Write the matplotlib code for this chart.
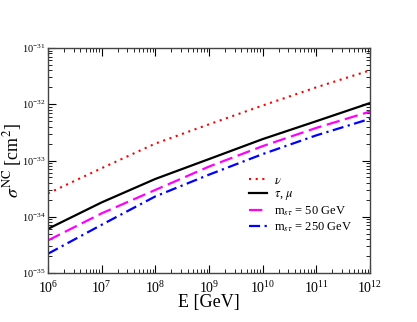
import numpy as np
import matplotlib
matplotlib.use('Agg')
import matplotlib.pyplot as plt
from matplotlib.ticker import LogLocator, NullFormatter

plt.rcParams['font.family'] = ['Liberation Serif', 'DejaVu Serif']
plt.rcParams['mathtext.fontset'] = 'stix'

# energies [GeV]
energy = [1e6, 1e7, 1e8, 1e9, 1e10, 1e11, 1e12]
# cross sections [cm^2]
sigma_nu = [2.6e-34, 7.3e-34, 2.0e-33, 4.4e-33, 9.5e-33, 2.0e-32, 4.0e-32]
sigma_tau_mu = [6.1e-35, 1.8e-34, 4.7e-34, 1.06e-33, 2.4e-33, 5.0e-33, 1.05e-32]
sigma_m50 = [3.8e-35, 1.15e-34, 3.0e-34, 7.8e-34, 1.8e-33, 3.8e-33, 7.4e-33]
sigma_m250 = [2.2e-35, 7.2e-35, 2.3e-34, 5.6e-34, 1.3e-33, 2.8e-33, 5.5e-33]

fig = plt.figure(figsize=(4.17, 3.22), dpi=100)
ax = fig.add_axes([48 / 417, 1 - 273 / 322, 322 / 417, 225 / 322])

ax.plot(energy, sigma_nu, color='red', linestyle=(0, (1, 2.2)), lw=1.5, label=r'$\nu$')
ax.plot(energy, sigma_tau_mu, color='black', linestyle='-', lw=1.6, label=r'$\tau$, $\mu$')
ax.plot(energy, sigma_m50, color='magenta', linestyle=(0, (6, 2.5)), lw=1.6,
        label=r'm$_{s\tau}$ = 50 GeV')
ax.plot(energy, sigma_m250, color='blue', linestyle=(0, (5, 2, 1, 2)), lw=1.6,
        label=r'm$_{s\tau}$ = 250 GeV')

ax.set_xscale('log')
ax.set_yscale('log')
ax.set_xlim(1e6, 1e12)
ax.set_ylim(1e-35, 1e-31)

ax.xaxis.set_major_locator(LogLocator(base=10, numticks=10))
ax.xaxis.set_minor_locator(LogLocator(base=10, subs=np.arange(2, 10), numticks=20))
ax.yaxis.set_major_locator(LogLocator(base=10, numticks=10))
ax.yaxis.set_minor_locator(LogLocator(base=10, subs=np.arange(2, 10), numticks=20))
ax.xaxis.set_minor_formatter(NullFormatter())
ax.yaxis.set_minor_formatter(NullFormatter())

ax.tick_params(which='both', direction='in', top=True, right=True)
ax.tick_params(which='major', length=6, width=0.8)
ax.tick_params(which='minor', length=3, width=0.6)
ax.tick_params(axis='x', which='major', labelsize=10, pad=5)
ax.tick_params(axis='y', which='major', labelsize=7.5, pad=2)
for s in ax.spines.values():
    s.set_linewidth(1.0)
    s.set_color('#444444')

ax.set_xlabel('E [GeV]', fontsize=13, labelpad=-1)
ax.set_ylabel(r'$\sigma^{\rm NC}$ [cm$^2$]', fontsize=13)
ax.yaxis.set_label_coords(-0.075, 0.5)

ax.legend(loc='upper left', bbox_to_anchor=(0.61, 0.46), frameon=False, fontsize=9,
          handlelength=1.4, handletextpad=0.6, labelspacing=0.15, borderaxespad=0)

plt.savefig('out.png', dpi=100)
